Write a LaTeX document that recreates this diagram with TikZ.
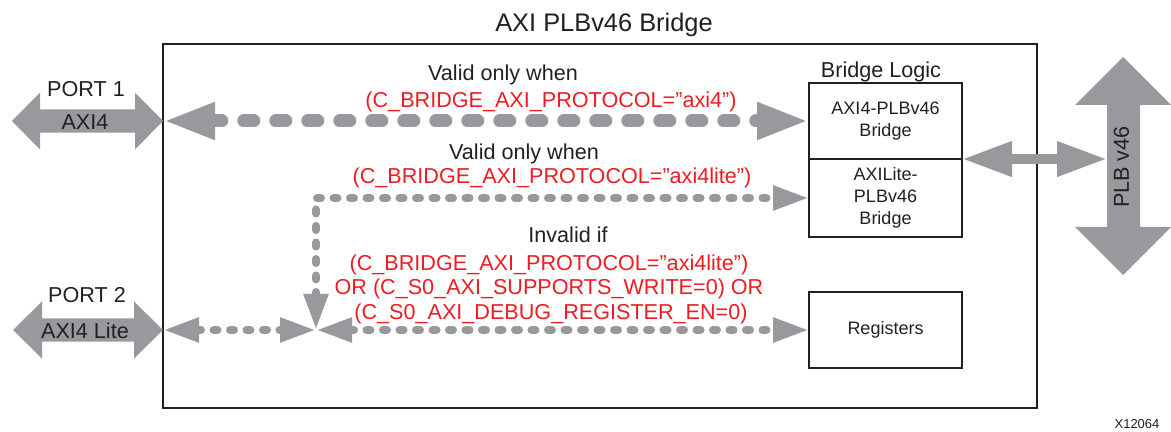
\documentclass[tikz,border=0pt]{standalone}
\usepackage{fontspec}
\setmainfont{Liberation Sans}
\usepackage{xcolor}
\usetikzlibrary{arrows.meta}
\definecolor{arrgray}{RGB}{152,153,157}
\definecolor{condred}{RGB}{237,28,36}
\definecolor{inkblack}{RGB}{35,31,32}

\begin{document}
\begin{tikzpicture}[x=0.5pt,y=-0.5pt,
	txt/.style={font=\fontsize{10.8}{13}\selectfont, text=inkblack, anchor=base, inner sep=0pt},
	cond/.style={txt, text=condred},
	blk/.style={draw=inkblack, line width=0.9pt, outer sep=0pt, inner sep=0pt, minimum width=76.5pt,
		font=\fontsize{9}{11}\selectfont, text=inkblack, align=center},
	bigdash/.style={draw=arrgray, line width=6.5pt, line cap=round, dash pattern=on 5pt off 11pt,
		{Triangle[length=26pt,width=17pt]}-{Triangle[length=26pt,width=17pt]}},
	smalldash/.style={draw=arrgray, line width=4pt, line cap=round, dash pattern=on 2pt off 6.25pt,
		{Triangle[length=18pt,width=11.5pt]}-{Triangle[length=18pt,width=11.5pt]}}]
	
	\useasboundingbox (0,0) rectangle (1171,432);
	
	% title and outer box
	\node[txt, font=\fontsize{12.7}{15}\selectfont] (title) at (604,32) {AXI PLBv46 Bridge};
	\draw[line width=1pt, inkblack] (163,44) rectangle (1037,408);
	
	% port arrows (left)
	\fill[arrgray] (12,121) -- (40,92.5) -- (40,109.3) -- (135,109.3) -- (135,92.5) -- (163,121)
		-- (135,149.5) -- (135,132.7) -- (40,132.7) -- (40,149.5) -- cycle;
	\fill[arrgray] (13,330) -- (42,301.5) -- (42,318.3) -- (134,318.3) -- (134,301.5) -- (163,330)
		-- (134,358.5) -- (134,341.7) -- (42,341.7) -- (42,358.5) -- cycle;
	\coordinate (p1) at (163,121);
	\coordinate (p2) at (163,330);
	\node[txt] (p1name) at (86,97) {PORT 1};
	\node[txt] (p1bus) at (85,130) {AXI4};
	\node[txt] (p2name) at (87,303) {PORT 2};
	\node[txt] (p2bus) at (85,339) {AXI4 Lite};
	
	% bridge logic blocks
	\node[txt] (logic) at (881,78) {Bridge Logic};
	\node[blk, minimum height=38pt] (b4) at (885.5,121) {AXI4-PLBv46\\Bridge};
	\node[blk, minimum height=39pt] (blite) at (885.5,198) {AXILite-\\PLBv46\\Bridge};
	\node[blk, minimum height=38pt] (regs) at (885.5,330) {Registers};
	
	% PLB bus (right)
	\fill[arrgray] (1123,57) -- (1171,105) -- (1140,105) -- (1140,227) -- (1171,227) -- (1123,275)
		-- (1075,227) -- (1107,227) -- (1107,105) -- (1075,105) -- cycle;
	\node[txt, anchor=center, rotate=90] (plb) at (1121.5,167) {PLB v46};
	\coordinate (plbw) at (1107,159);
	\draw[arrgray, line width=5pt, {Triangle[length=25pt,width=16.5pt]}-{Triangle[length=25pt,width=16.5pt]}]
		(b4.south east) -- (plbw);
	
	% dashed paths
	\coordinate (jn) at (316,330);
	\draw[bigdash] (p1) -- (b4.west);
	\draw[smalldash] (jn) |- (blite.west);
	\draw[smalldash] (p2) -- (jn);
	\draw[smalldash] (jn) -- (regs.west);
	
	% conditions
	\node[txt] (v1) at (503,81) {Valid only when};
	\node[cond] (c1) at (551,108) {(C\_BRIDGE\_AXI\_PROTOCOL=”axi4”)};
	\node[txt] (v2) at (524,160) {Valid only when};
	\node[cond] (c2) at (552,184) {(C\_BRIDGE\_AXI\_PROTOCOL=”axi4lite”)};
	\node[txt] (inv) at (568,243) {Invalid if};
	\node[cond] (inv1) at (549,271) {(C\_BRIDGE\_AXI\_PROTOCOL=”axi4lite”)};
	\node[cond] (inv2) at (549,295) {OR (C\_S0\_AXI\_SUPPORTS\_WRITE=0) OR};
	\node[cond] (inv3) at (551,320) {(C\_S0\_AXI\_DEBUG\_REGISTER\_EN=0)};
	
	% figure number
	\node[txt, font=\fontsize{6.5}{8}\selectfont] (fignum) at (1137,428) {X12064};
	
\end{tikzpicture}
\end{document}
